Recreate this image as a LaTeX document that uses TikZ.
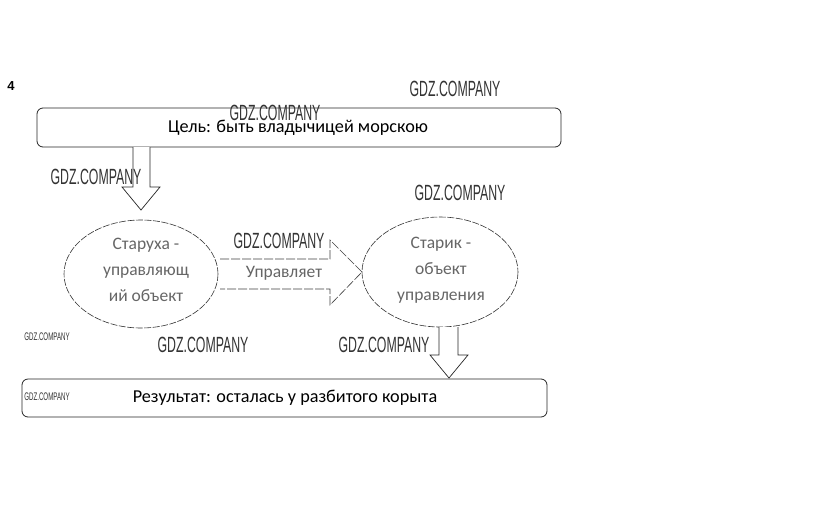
\documentclass[tikz,border=0pt]{standalone}
\usepackage{fontspec}
\setmainfont{Carlito}
\newfontfamily\wmfont{Liberation Sans}
\newfontfamily\numfont{Liberation Sans}
\begin{document}
\begin{tikzpicture}[x=1pt,y=-1pt,
  boxst/.style={draw=black!85, line width=0.8pt, rounded corners=6pt},
  ellst/.style={draw=black!80, line width=0.6pt, dash pattern=on 7pt off 1.5pt},
  blockarr/.style={draw=black!85, line width=0.7pt, fill=white},
  maintxt/.style={font=\fontsize{18.2}{22}\selectfont, text=black},
  elltxt/.style={font=\fontsize{17.5}{26}\selectfont, text=black!60, align=center},
  wmbig/.style={font=\wmfont\fontsize{22}{24}\selectfont, text=black!80, xscale=0.56, inner sep=0},
  wmsmall/.style={font=\wmfont\fontsize{11}{12}\selectfont, text=black!80, xscale=0.56, inner sep=0}]
\useasboundingbox (0,0) rectangle (823,523);
\fill[white] (0,0) rectangle (823,523);
% number
\node[font=\numfont\bfseries\fontsize{13}{14}\selectfont] (num) at (11,86) {4};
% top box
\draw[boxst] (37,108) rectangle (561,147);
\node[maintxt] (goal) at (298,128) {Цель: быть владычицей морскою};
% down arrow 1
\draw[blockarr] (133,147) -- (133,187) -- (122,187) -- (141,210) -- (160,187) -- (150,187) -- (150,147);
% left ellipse
\draw[ellst] (141,274) ellipse [x radius=77, y radius=54];
\node[elltxt] (old) at (146,270) {Старуха -\\управляющ\\ий объект};
% right ellipse
\draw[ellst] (440,272) ellipse [x radius=78, y radius=55];
\node[elltxt] (man) at (441,270) {Старик -\\объект\\управления};
% middle arrow
\draw[line width=0.6pt, draw=black!75, dash pattern=on 9pt off 2pt]
  (220,259) -- (330,259) -- (330,240) -- (362,272) -- (330,305) -- (330,289) -- (220,289);
\node[font=\fontsize{17.5}{20}\selectfont, text=black!60] (ctrl) at (284,273) {Управляет};
% down arrow 2
\draw[blockarr] (439,327) -- (439,355) -- (430,355) -- (449,378) -- (468,355) -- (458,355) -- (458,327);
% bottom box
\draw[boxst] (22,379) rectangle (547,417);
\node[maintxt] (res) at (285,398) {Результат: осталась у разбитого корыта};
% watermarks
\node[wmbig] (w1) at (455,89) {GDZ.COMPANY};
\node[wmbig] (w2) at (275,113) {GDZ.COMPANY};
\node[wmbig] (w3) at (96,177) {GDZ.COMPANY};
\node[wmbig] (w4) at (460,193) {GDZ.COMPANY};
\node[wmbig] (w5) at (279,241) {GDZ.COMPANY};
\node[wmbig] (w6) at (203,345) {GDZ.COMPANY};
\node[wmbig] (w7) at (384,345) {GDZ.COMPANY};
\node[wmsmall] (w8) at (47,337) {GDZ.COMPANY};
\node[wmsmall] (w9) at (47,397) {GDZ.COMPANY};
\end{tikzpicture}
\end{document}
